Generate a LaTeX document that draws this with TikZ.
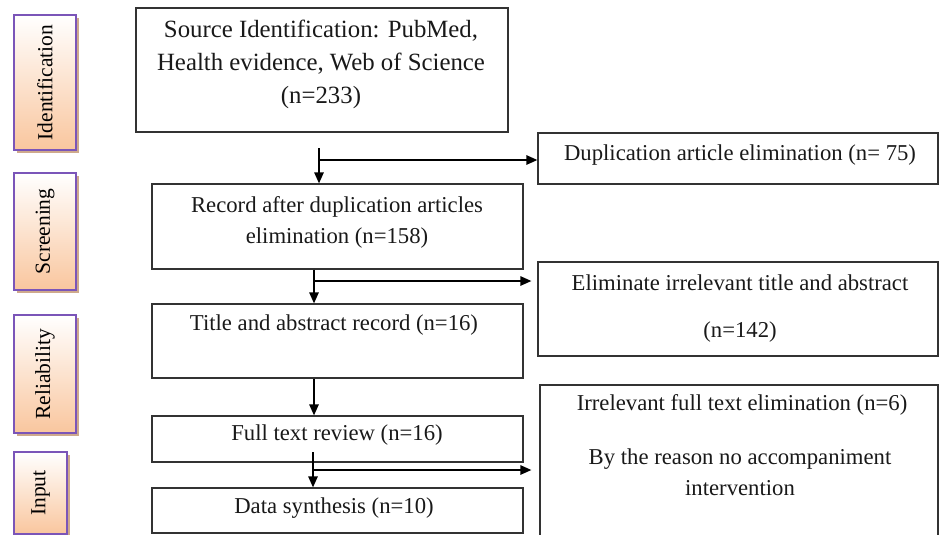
\documentclass[tikz,border=0pt]{standalone}
\usepackage{fontspec}
\setmainfont{Liberation Serif}
\usetikzlibrary{arrows.meta,shadows}
\definecolor{boxline}{HTML}{333333}
\definecolor{stageline}{HTML}{7B55B8}
\definecolor{peach}{HTML}{F9C69E}
\definecolor{tanshadow}{HTML}{C9A080}
\begin{document}
\begin{tikzpicture}[x=1pt,y=-1pt,
  box/.style={draw=boxline, line width=1.3pt, inner sep=0pt},
  txt/.style={font=\fontsize{22.7}{31}\selectfont, align=center, inner sep=0pt, text=black!90},
  arr/.style={draw=black, line width=1.3pt, -{Triangle[length=11pt,width=9.5pt]}},
  stage/.style={draw=stageline, line width=1.3pt, top color=white, bottom color=peach,
    inner sep=0pt, font=\fontsize{21.5}{24}\selectfont,
    drop shadow={shadow xshift=3pt,shadow yshift=-3pt,fill=tanshadow,opacity=0.9}}
]
\useasboundingbox (0,0) rectangle (939,535);

% stage labels
\node[stage, minimum width=62pt, minimum height=135pt] (s1) at (45,82.5) {\rotatebox{90}{Identification}};
\node[stage, minimum width=62pt, minimum height=117pt] (s2) at (45,231.5) {\rotatebox{90}{Screening}};
\node[stage, minimum width=62pt, minimum height=118pt] (s3) at (45,374) {\rotatebox{90}{Reliability}};
\node[stage, minimum width=53pt, minimum height=82pt] (s4) at (40.5,493) {\rotatebox{90}{Input}};

% boxes
\node[box, minimum width=372pt, minimum height=124pt] (top) at (322,70) {};
\node[box, minimum width=400pt, minimum height=51pt] (dup) at (738,158.5) {};
\node[box, minimum width=371pt, minimum height=85pt] (rec) at (337.5,226.5) {};
\node[box, minimum width=400pt, minimum height=94pt] (elim) at (738,309) {};
\node[box, minimum width=371pt, minimum height=74pt] (title) at (337.5,341) {};
\node[box, minimum width=398pt, minimum height=160pt] (irr) at (739,465) {};
\node[box, minimum width=371pt, minimum height=46pt] (full) at (337.5,439) {};
\node[box, minimum width=371pt, minimum height=45pt] (data) at (337.5,510.5) {};

% texts
\node[txt, font=\fontsize{24.8}{33}\selectfont] (ttop) at (321,64.5) {Source Identification: PubMed,\\Health evidence, Web of Science\\(n=233)};
\node[txt] (tdup) at (740,155) {Duplication article elimination (n= 75)};
\node[txt] (trec) at (337,222) {Record after duplication articles\\elimination (n=158)};
\node[txt] (telim1) at (740,283) {Eliminate irrelevant title and abstract};
\node[txt] (telim2) at (740,332) {(n=142)};
\node[txt] (ttitle) at (334,325) {Title and abstract record (n=16)};
\node[txt] (tirr1) at (742,405) {Irrelevant full text elimination (n=6)};
\node[txt] (tirr2) at (740,472.5) {By the reason no accompaniment\\intervention};
\node[txt] (tfull) at (337,435) {Full text review (n=16)};
\node[txt] (tdata) at (334,508) {Data synthesis (n=10)};

% connectors
\coordinate (a1) at (319,148);
\draw[arr] (a1) -- (a1 |- rec.north);
\coordinate (b1) at (319,160);
\draw[arr] (b1) -- (b1 -| dup.west);

\coordinate (x2) at (314,0);
\draw[arr] (rec.south -| x2) -- (title.north -| x2);
\coordinate (b2) at (315,281);
\draw[arr] (b2) -- ([xshift=-6pt]b2 -| elim.west);

\draw[arr] (title.south -| x2) -- (full.north -| x2);

\coordinate (a4) at (313,452);
\draw[arr] (a4) -- (a4 |- data.north);
\coordinate (b4) at (313,470);
\draw[arr] (b4) -- ([xshift=-8pt]b4 -| irr.west);
\end{tikzpicture}
\end{document}
